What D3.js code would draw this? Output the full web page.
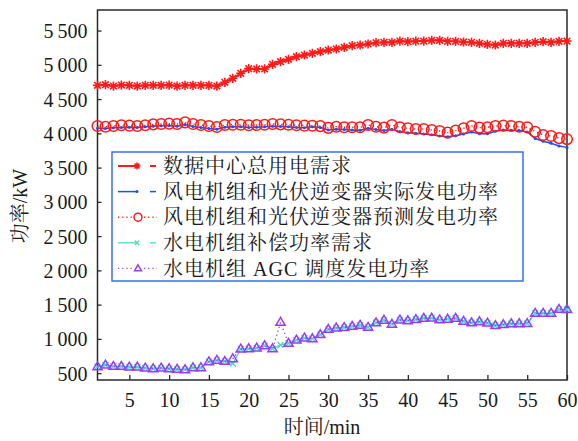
<!DOCTYPE html>
<html>
<head>
<meta charset="utf-8">
<script src="https://cdn.jsdelivr.net/npm/d3@7"></script>
<style>
  html, body { margin: 0; padding: 0; background: #fff; }
  svg { display: block; }
  text { font-family: "Liberation Serif", "Times New Roman", "DejaVu Serif", "Noto Serif CJK SC", "Noto Sans CJK SC", serif; fill: #1a1a1a; }
</style>
</head>
<body>
<svg id="chart" width="578" height="441"></svg>
<script>
// Time axis (minutes)
const minutes = d3.range(1, 61);
const xTicks = [5, 10, 15, 20, 25, 30, 35, 40, 45, 50, 55, 60];
const yTicks = [500, 1000, 1500, 2000, 2500, 3000, 3500, 4000, 4500, 5000, 5500];

// Data-centre total demand (kW)
const demand = [4700, 4710, 4690, 4705, 4700, 4690, 4700, 4700, 4700, 4705, 4690, 4700, 4700, 4700, 4700, 4690,
  4745, 4803, 4876, 4944, 4940, 4940, 5007, 5046, 5080, 5119, 5143, 5168, 5192, 5216,
  5231, 5255, 5279, 5289, 5304, 5323, 5328, 5328, 5347, 5338, 5347, 5347, 5357, 5357, 5343,
  5343, 5333, 5328, 5313, 5299, 5289, 5313, 5313, 5313, 5313, 5328, 5338, 5328, 5343, 5347];

// Wind + PV inverter actual output (kW)
const renewActual = [4075, 4070, 4080, 4085, 4090, 4085, 4095, 4105, 4110, 4115, 4105, 4130, 4100, 4085, 4070,
  4060, 4090, 4095, 4095, 4085, 4090, 4095, 4105, 4100, 4095, 4085, 4080, 4095, 4085, 4050,
  4060, 4055, 4050, 4045, 4075, 4055, 4040, 4060, 4025, 4010, 4000, 3990, 3980, 3960, 3950,
  3965, 3990, 4020, 3995, 3995, 4030, 4050, 4045, 4040, 4020, 3925, 3885, 3855, 3815, 3795];

// Wind + PV inverter forecast output (kW)
const renewForecast = [4107, 4097, 4107, 4117, 4112, 4107, 4117, 4131, 4136, 4141, 4136, 4160, 4136, 4122, 4107,
  4092, 4122, 4126, 4126, 4117, 4122, 4126, 4136, 4131, 4126, 4117, 4112, 4110, 4105, 4080,
  4097, 4088, 4088, 4088, 4122, 4097, 4083, 4122, 4088, 4073, 4063, 4063, 4049, 4034, 4010,
  4039, 4073, 4107, 4083, 4088, 4107, 4112, 4107, 4097, 4088, 4024, 3976, 3961, 3930, 3915];

// Hydro unit AGC dispatch output (kW)
const hydroAgc = [594, 619, 599, 599, 590, 590, 575, 565, 575, 565, 556, 551, 580, 580, 667,
  687, 672, 711, 852, 857, 867, 901, 857, 1242, 935, 984, 1013, 1003, 1062, 1139,
  1160, 1166, 1183, 1198, 1170, 1235, 1273, 1215, 1276, 1266, 1283, 1300, 1303, 1278, 1288,
  1300, 1258, 1235, 1251, 1232, 1195, 1208, 1222, 1222, 1225, 1373, 1373, 1373, 1431, 1428];

// Hydro unit compensation power demand (kW)
const hydroDemand = [594, 619, 599, 599, 590, 590, 575, 565, 575, 565, 556, 551, 580, 580, 667,
  687, 672, 640, 852, 857, 867, 901, 857, 911, 935, 984, 1013, 1003, 1062, 1139,
  1160, 1166, 1183, 1198, 1170, 1235, 1273, 1215, 1276, 1266, 1283, 1300, 1303, 1278, 1288,
  1300, 1258, 1235, 1251, 1232, 1195, 1208, 1222, 1222, 1225, 1373, 1373, 1373, 1431, 1428];

const seriesNames = [
  "数据中心总用电需求",
  "风电机组和光伏逆变器实际发电功率",
  "风电机组和光伏逆变器预测发电功率",
  "水电机组补偿功率需求",
  "水电机组 AGC 调度发电功率"
];

const svg = d3.select("#chart");
const plotLeft = 97.5, plotRight = 567, plotTop = 10, plotBottom = 380;

const x = d3.scaleLinear().domain([1, 60]).range([plotLeft, plotRight]);
const y = d3.scaleLinear().domain([400, 5800]).range([plotBottom, plotTop]);

// marker shapes
function starPath(r) {
  const d = r * 0.72;
  return `M${-r},0L${r},0M0,${-r}L0,${r}M${-d},${-d}L${d},${d}M${-d},${d}L${d},${-d}`;
}
function crossPath(r) {
  return `M${-r},${-r}L${r},${r}M${-r},${r}L${r},${-r}`;
}
function trianglePath(r) {
  const h = r * 1.7;
  return `M0,${-h * 0.62}L${r},${h * 0.38}L${-r},${h * 0.38}Z`;
}

const series = [
  { name: seriesNames[0], values: demand, color: "#ff1a1a", width: 2, dash: null, marker: "star" },
  { name: seriesNames[1], values: renewActual, color: "#1f4fee", width: 1.5, dash: null, marker: "dot" },
  { name: seriesNames[2], values: renewForecast, color: "#ff1a1a", width: 1.4, dash: "1.2,3", marker: "circle" },
  { name: seriesNames[3], values: hydroDemand, color: "#45e0c2", width: 1.3, dash: null, marker: "cross" },
  { name: seriesNames[4], values: hydroAgc, color: "#9a3cf5", width: 1.4, dash: "1.2,3", marker: "triangle" }
];

function drawMarker(g, m, color, scale) {
  const k = scale || 1;
  if (m === "star") {
    g.append("path").attr("d", starPath(4.6 * k)).attr("stroke", color).attr("stroke-width", 1.6).attr("fill", "none");
  } else if (m === "dot") {
    g.append("circle").attr("r", 1.5).attr("fill", color);
  } else if (m === "circle") {
    g.append("circle").attr("r", 5.3 * k).attr("stroke", color).attr("stroke-width", 1.5).attr("fill", "none");
  } else if (m === "cross") {
    g.append("path").attr("d", crossPath(3 * k)).attr("stroke", color).attr("stroke-width", 1.3).attr("fill", "none");
  } else if (m === "triangle") {
    g.append("path").attr("d", trianglePath(4.6 * k)).attr("stroke", color).attr("stroke-width", 1.5).attr("fill", "none");
  }
}

// frame
svg.append("rect")
  .attr("x", plotLeft).attr("y", plotTop)
  .attr("width", plotRight - plotLeft).attr("height", plotBottom - plotTop)
  .attr("fill", "none").attr("stroke", "#2a2a2a").attr("stroke-width", 1.5);

// axes (ticks pointing inward)
const xAxis = d3.axisBottom(x).tickValues(xTicks).tickSizeInner(-5).tickSizeOuter(0).tickPadding(13);
const fmt = d3.format(",");
const yAxis = d3.axisLeft(y).tickValues(yTicks).tickSizeInner(-4).tickSizeOuter(0).tickPadding(10)
  .tickFormat(d => fmt(d).replace(/,/g, "\u2009"));

const gx = svg.append("g").attr("transform", `translate(0,${plotBottom})`).call(xAxis);
const gy = svg.append("g").attr("transform", `translate(${plotLeft},0)`).call(yAxis);
[gx, gy].forEach(g => {
  g.attr("font-family", null);
  g.select(".domain").remove();
  g.selectAll(".tick line").attr("stroke", "#2a2a2a").attr("stroke-width", 1.3);
  g.selectAll(".tick text").attr("font-size", 20).attr("fill", "#1a1a1a");
});
gy.selectAll(".tick text").attr("dy", "0.35em");

// axis titles
svg.append("text")
  .attr("x", 322).attr("y", 434)
  .attr("text-anchor", "middle").attr("font-size", 20)
  .text("时间/min");
svg.append("text")
  .attr("transform", "translate(27,206) rotate(-90)")
  .attr("text-anchor", "middle").attr("font-size", 20)
  .text("功率/kW");

// series lines and markers
const line = d3.line().x((d, i) => x(minutes[i])).y(d => y(d));
series.forEach(s => {
  const g = svg.append("g");
  g.append("path")
    .attr("d", line(s.values))
    .attr("fill", "none")
    .attr("stroke", s.color)
    .attr("stroke-width", s.width)
    .attr("stroke-dasharray", s.dash);
  s.values.forEach((v, i) => {
    const mg = g.append("g").attr("transform", `translate(${x(minutes[i])},${y(v)})`);
    drawMarker(mg, s.marker, s.color);
  });
});

// legend
const lg = svg.append("g");
lg.append("rect")
  .attr("x", 112).attr("y", 152).attr("width", 411).attr("height", 129)
  .attr("fill", "#fff").attr("stroke", "#3d6df2").attr("stroke-width", 1.5);
series.forEach((s, i) => {
  const cy = 166 + i * 25.6;
  const row = lg.append("g");
  if (s.dash) {
    row.append("line").attr("x1", 118).attr("x2", 133).attr("y1", cy).attr("y2", cy)
      .attr("stroke", s.color).attr("stroke-width", s.width).attr("stroke-dasharray", s.dash);
    row.append("line").attr("x1", 144).attr("x2", 157).attr("y1", cy).attr("y2", cy)
      .attr("stroke", s.color).attr("stroke-width", s.width).attr("stroke-dasharray", s.dash);
  } else {
    row.append("line").attr("x1", 118).attr("x2", 137).attr("y1", cy).attr("y2", cy)
      .attr("stroke", s.color).attr("stroke-width", s.width);
    row.append("line").attr("x1", 150).attr("x2", 156).attr("y1", cy).attr("y2", cy)
      .attr("stroke", s.color).attr("stroke-width", s.width);
  }
  const mg = row.append("g").attr("transform", `translate(${s.dash ? 138 : 137},${cy})`);
  drawMarker(mg, s.marker, s.color, 0.75);
  row.append("text")
    .attr("x", 163).attr("y", cy).attr("dy", "0.36em")
    .attr("font-size", 20).attr("letter-spacing", "1px")
    .text(s.name);
});
</script>
</body>
</html>
